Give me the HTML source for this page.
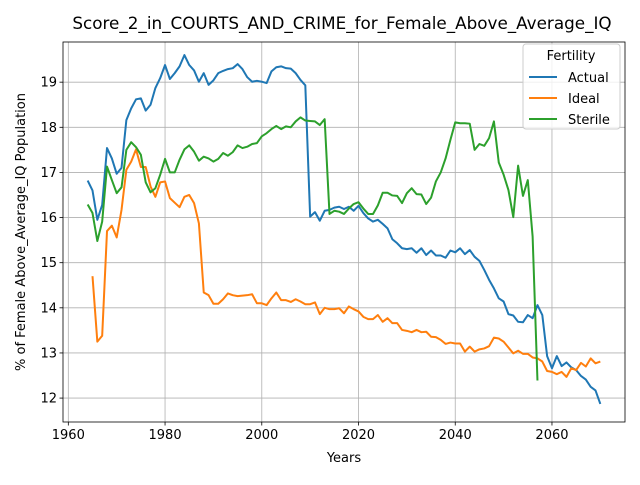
<!DOCTYPE html>
<html><head><meta charset="utf-8"><style>
body{margin:0;background:#fff}
svg{font-family:"DejaVu Sans","Liberation Sans",sans-serif}
</style></head><body>
<svg id="chart" width="640" height="480" viewBox="0 0 640 480" xmlns="http://www.w3.org/2000/svg">
<rect width="640" height="480" fill="#fff"/>
<g id="grid"></g>
<g id="series"></g>
<g id="axes"></g>
<text x="342" y="29" text-anchor="middle" font-size="16.8">Score_2_in_COURTS_AND_CRIME_for_Female_Above_Average_IQ</text>
<text x="344" y="462" text-anchor="middle" font-size="13">Years</text>
<text transform="translate(25,232) rotate(-90)" text-anchor="middle" font-size="13">% of Female Above_Average_IQ Population</text>
<g>
<rect x="523" y="44" width="97" height="85" rx="3" fill="#fff" fill-opacity="0.8" stroke="#ccc"/>
<text x="571" y="60" text-anchor="middle" font-size="13">Fertility</text>
<line x1="529" y1="77" x2="557" y2="77" stroke="#1f77b4" stroke-width="2"/>
<text x="568" y="82" font-size="13">Actual</text>
<line x1="529" y1="98" x2="557" y2="98" stroke="#ff7f0e" stroke-width="2"/>
<text x="568" y="103" font-size="13">Ideal</text>
<line x1="529" y1="119" x2="557" y2="119" stroke="#2ca02c" stroke-width="2"/>
<text x="568" y="124" font-size="13">Sterile</text>
</g>
</svg>
<script>
const actualStart = 1964;
const actualValues = [16.82,16.6,15.95,16.28,17.54,17.31,16.97,17.1,18.16,18.42,18.62,18.64,18.37,18.5,18.87,19.09,19.38,19.07,19.2,19.35,19.6,19.38,19.26,19.01,19.2,18.94,19.04,19.2,19.25,19.29,19.31,19.4,19.29,19.11,19.01,19.03,19.01,18.98,19.24,19.33,19.35,19.31,19.3,19.2,19.05,18.93,16.02,16.12,15.93,16.15,16.17,16.22,16.24,16.19,16.24,16.15,16.26,16.1,15.98,15.91,15.95,15.86,15.76,15.52,15.43,15.32,15.3,15.32,15.22,15.32,15.17,15.27,15.16,15.16,15.11,15.27,15.23,15.32,15.19,15.28,15.13,15.04,14.84,14.62,14.43,14.21,14.14,13.86,13.83,13.69,13.68,13.84,13.77,14.06,13.84,12.93,12.66,12.93,12.71,12.79,12.68,12.62,12.49,12.41,12.25,12.17,11.87];
const idealStart = 1965;
const idealValues = [14.7,13.25,13.38,15.7,15.82,15.56,16.17,17.06,17.24,17.51,17.12,17.12,16.69,16.46,16.78,16.8,16.43,16.33,16.23,16.46,16.5,16.32,15.87,14.34,14.28,14.09,14.09,14.19,14.32,14.28,14.26,14.27,14.28,14.3,14.1,14.1,14.06,14.21,14.34,14.17,14.17,14.13,14.19,14.14,14.08,14.08,14.12,13.86,14.0,13.97,13.97,13.99,13.88,14.03,13.97,13.92,13.8,13.75,13.75,13.84,13.69,13.77,13.66,13.66,13.51,13.49,13.46,13.51,13.46,13.47,13.36,13.35,13.29,13.2,13.23,13.21,13.21,13.03,13.14,13.03,13.08,13.1,13.15,13.34,13.32,13.25,13.12,12.99,13.05,12.98,12.98,12.9,12.88,12.81,12.6,12.58,12.53,12.58,12.47,12.66,12.62,12.78,12.7,12.88,12.77,12.81];
const sterileStart = 1964;
const sterileValues = [16.29,16.1,15.48,15.91,17.13,16.83,16.54,16.67,17.5,17.67,17.56,17.39,16.78,16.56,16.65,16.95,17.3,17.0,17.0,17.28,17.51,17.6,17.46,17.26,17.35,17.31,17.24,17.3,17.43,17.37,17.45,17.6,17.54,17.57,17.63,17.65,17.8,17.87,17.96,18.03,17.96,18.02,18.0,18.13,18.22,18.15,18.14,18.13,18.05,18.18,16.08,16.15,16.13,16.08,16.2,16.3,16.34,16.2,16.08,16.08,16.27,16.55,16.55,16.49,16.48,16.32,16.54,16.65,16.52,16.51,16.3,16.44,16.8,17.0,17.31,17.72,18.11,18.09,18.09,18.08,17.5,17.63,17.59,17.76,18.13,17.22,16.95,16.61,16.01,17.15,16.48,16.83,15.58,12.39];
const xTicks = [1960,1980,2000,2020,2040,2060];
const yTicks = [12,13,14,15,16,17,18,19];

const L=63,R=625,T=42,B=422;
const xMin=1958.9,xMax=2075.1,yMin=11.47,yMax=19.89;
const xs=v=>L+(v-xMin)/(xMax-xMin)*(R-L);
const ys=v=>B-(v-yMin)/(yMax-yMin)*(B-T);
const NS="http://www.w3.org/2000/svg";
function mk(tag,attrs,parent){const e=document.createElementNS(NS,tag);for(const k in attrs)e.setAttribute(k,attrs[k]);parent.appendChild(e);return e;}
const grid=document.getElementById('grid'),axes=document.getElementById('axes'),ser=document.getElementById('series');
xTicks.forEach(t=>{const x=xs(t);
 const g=mk('line',{x1:x,x2:x,y1:T,y2:B,stroke:'#b0b0b0','stroke-width':0.8},grid);
 
 
 mk('line',{x1:x,x2:x,y1:B,y2:B+3.5,stroke:'#000','stroke-width':0.8},axes);
 const tx=mk('text',{x:x,y:B+17,'text-anchor':'middle','font-size':13},axes);tx.textContent=t;
 
 
});
yTicks.forEach(t=>{const y=ys(t);
 const g=mk('line',{x1:L,x2:R,y1:y,y2:y,stroke:'#b0b0b0','stroke-width':0.8},grid);
 
 
 mk('line',{x1:L-3.5,x2:L,y1:y,y2:y,stroke:'#000','stroke-width':0.8},axes);
 const tx=mk('text',{x:L-6,y:y+4.5,'text-anchor':'end','font-size':13},axes);tx.textContent=t;
 
 
});
const fr=mk('rect',{x:L,y:T,width:R-L,height:B-T,fill:'none',stroke:'#000','stroke-width':0.8},axes);


function line(start,vals,color,name){
 const d=vals.map((v,i)=>(i?'L':'M')+xs(start+i).toFixed(2)+','+ys(v).toFixed(2)).join('');
 const p=mk('path',{d:d,fill:'none',stroke:color,'stroke-width':2,'stroke-linejoin':'round'},ser);
 
 
}
line(actualStart,actualValues,'#1f77b4','actual-line');
line(idealStart,idealValues,'#ff7f0e','ideal-line');
line(sterileStart,sterileValues,'#2ca02c','sterile-line');
</script>
</body></html>
